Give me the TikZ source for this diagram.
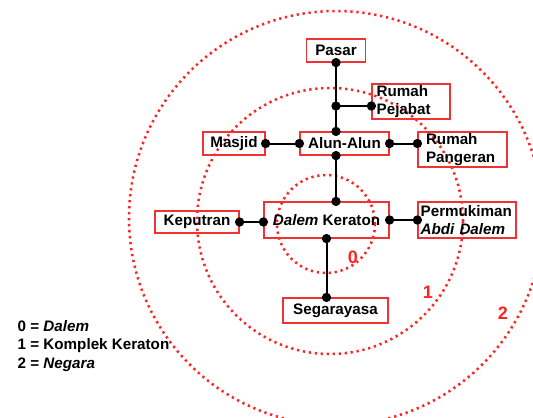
\documentclass[tikz,border=0pt]{standalone}
\usepackage{fontspec}
\setmainfont{Liberation Sans}
\usepackage{tikz}
\definecolor{ringred}{RGB}{255, 35, 35}
\definecolor{boxred}{RGB}{240, 50, 50}

\begin{document}
\begin{tikzpicture}[x=0.75pt, y=-0.75pt,
        every node/.style={font=\fontsize{11.4}{13.6}\selectfont\bfseries},
        place/.style={draw=boxred, line width=0.9pt, inner sep=0pt, minimum height=17.25pt},
        ring/.style={ringred, line width=1.9pt, dash pattern=on 1.7pt off 2.8pt},
        zone/.style={text=ringred, font=\fontsize{13.5}{16}\selectfont\bfseries},
        link/.style={line width=1.5pt},
        dot/.style={circle, fill=black, inner sep=0pt, minimum size=7pt}]
    \useasboundingbox (0,0) rectangle (533,418);

    % the three zones
    \draw[ring] (326,224) circle[radius=49];
    \draw[ring] (330,221) circle[radius=133];
    \draw[ring] (336,218) circle[radius=207];

    \node[zone] (zero) at (353,257) {0};
    \node[zone] (one) at (428,292) {1};
    \node[zone] (two) at (503,313) {2};

    % places
    \node[place, minimum width=44.25pt] (pasar) at (336,50.5) {Pasar};
    \node[place, align=left, inner xsep=3.5pt, text width=51.5pt, minimum height=26.25pt] (pejabat) at (411,101.5) {Rumah\\Pejabat};
    \node[place, minimum width=46.5pt] (masjid) at (234,143.5) {Masjid};
    \node[place, minimum width=66.75pt] (alun) at (344.5,143.5) {Alun-Alun};
    \node[place, align=left, inner xsep=6pt, text width=54.75pt, minimum height=26.25pt] (pangeran) at (462.5,149.5) {Rumah\\Pangeran};
    \node[place, minimum width=93.75pt, minimum height=27pt] (keraton) at (326.5,220) {\textit{Dalem} Keraton};
    \node[place, minimum width=63pt, minimum height=16.5pt] (keputran) at (197,222) {Keputran};
    \node[place, align=left, inner xsep=2pt, text width=69.5pt, minimum height=27pt] (permukiman) at (467,220) {Permukiman\\\textit{Abdi Dalem}};
    \node[place, minimum width=78.75pt, minimum height=18.75pt] (segara) at (335.5,310.5) {Segarayasa};

    \node[anchor=west, align=left] (legend) at (13,346) {0 = \textit{Dalem}\\1 = Komplek Keraton\\2 = \textit{Negara}};

    % links
    \coordinate (fork) at (336,106);
    \draw[link] (pasar.south) -- (alun.north -| pasar.south);
    \draw[link] (fork) -- (fork -| pejabat.west);
    \draw[link] (masjid.east) -- (alun.west);
    \draw[link] (alun.east) -- (alun.east -| pangeran.west);
    \draw[link] (alun.south -| pasar.south) -- (keraton.north -| pasar.south);
    \draw[link] (keputran.east) -- (keputran.east -| keraton.west);
    \draw[link] (keraton.east) -- (permukiman.west);
    \draw[link] (keraton.south) -- (segara.north -| keraton.south);

    \foreach \p in {(pasar.south), (fork), (fork -| pejabat.west), (alun.north -| pasar.south),
                    (masjid.east), (alun.west), (alun.east), (alun.east -| pangeran.west),
                    (alun.south -| pasar.south), (keraton.north -| pasar.south),
                    (keputran.east), (keputran.east -| keraton.west),
                    (keraton.east), (permukiman.west),
                    (keraton.south), (segara.north -| keraton.south)}
        \node[dot] at \p {};
\end{tikzpicture}
\end{document}
